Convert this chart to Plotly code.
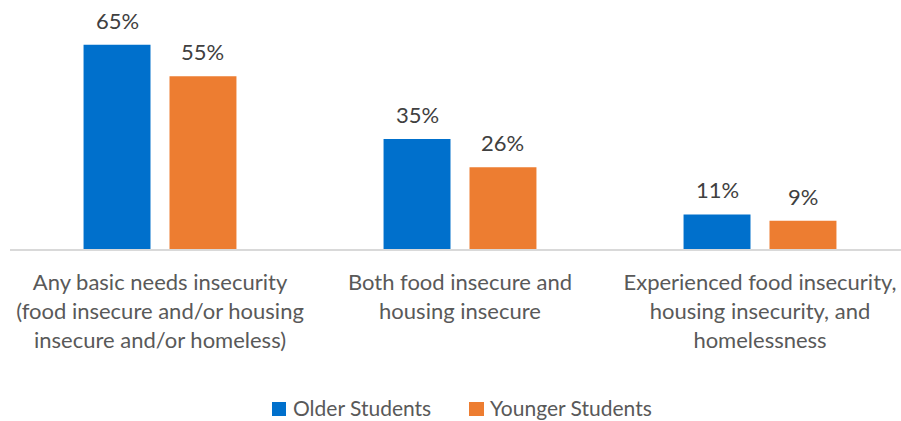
import plotly.graph_objects as go

categories = [
    "Any basic needs insecurity<br>(food insecure and/or housing<br>insecure and/or homeless)",
    "Both food insecure and<br>housing insecure",
    "Experienced food insecurity,<br>housing insecurity, and<br>homelessness",
]
series_names = ["Older Students", "Younger Students"]
older_students = [65, 35, 11]
younger_students = [55, 26, 9]

BLUE = "#0070CC"
ORANGE = "#ED7D31"
FONT = "Lato"
SIZE = 22

xpos = list(range(len(categories)))
colors = [BLUE, ORANGE]
series = [older_students, younger_students]

fig = go.Figure()
for name, values, color in zip(series_names, series, colors):
    fig.add_trace(go.Bar(name=name, x=xpos, y=values,
                         marker=dict(color=color, line=dict(width=0))))

# value labels above each bar
bargap = 0.427
slot = (1 - bargap) / 2
for offset, values in zip((-slot / 2, slot / 2), series):
    for i, v in enumerate(values):
        fig.add_annotation(x=i + offset, y=v, text=f"{v}%", showarrow=False,
                           yanchor="bottom", yshift=9,
                           font=dict(family=FONT, size=SIZE, color="#404040"))

# legend row: coloured square + series name, centred under the plot
PLOT_W, PLOT_H, BASE = 891, 220, 249
legend_items = [(272, 286, 292), (469, 484, 489)]
for (sq0, sq1, tx), name, color in zip(legend_items, series_names, colors):
    fig.add_shape(type="rect", xref="paper", yref="paper",
                  x0=(sq0 - 10) / PLOT_W, x1=(sq1 - 10) / PLOT_W,
                  y0=-(416 - BASE) / PLOT_H, y1=-(402 - BASE) / PLOT_H,
                  fillcolor=color, line=dict(width=0), layer="above")
    fig.add_annotation(xref="paper", yref="paper", x=(tx - 10) / PLOT_W,
                       y=-(407 - BASE) / PLOT_H,
                       xanchor="left", yanchor="middle", text=name, showarrow=False,
                       borderpad=0,
                       font=dict(family=FONT, size=21, color="#595959"))

fig.update_layout(
    width=901, height=421,
    margin=dict(l=10, r=0, t=29, b=172, autoexpand=False),
    paper_bgcolor="white", plot_bgcolor="white",
    barmode="group", bargap=bargap, bargroupgap=0.221,
    font=dict(family=FONT, size=SIZE, color="#595959"),
    showlegend=False,
)
fig.update_xaxes(range=[-0.5, 2.47], tickmode="array", tickvals=xpos, ticktext=categories,
                 showline=True, linecolor="#D9D9D9", linewidth=2, ticks="",
                 ticklabelstandoff=13,
                 showgrid=False, zeroline=False, fixedrange=True)
fig.update_yaxes(range=[0, 70], visible=False, showgrid=False, zeroline=False)

fig.write_html("out.html")
